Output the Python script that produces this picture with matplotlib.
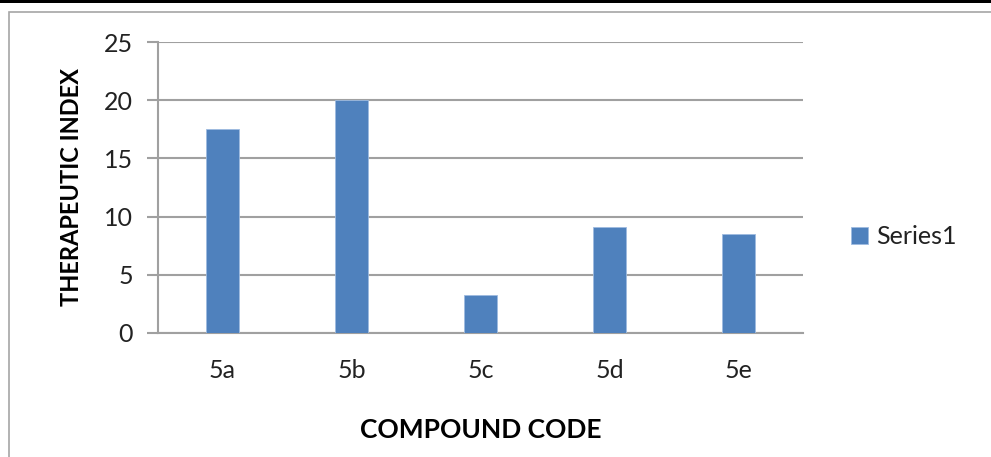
import matplotlib
matplotlib.use("Agg")
import matplotlib.pyplot as plt
from matplotlib.patches import Rectangle

# Therapeutic index of each compound
compounds = ["5a", "5b", "5c", "5d", "5e"]
therapeutic_index = [17.5, 20.0, 3.3, 9.1, 8.5]
y_ticks = [0, 5, 10, 15, 20, 25]
series_name = "Series1"

W, H = 991, 457
fig = plt.figure(figsize=(W / 100, H / 100), dpi=100)
plt.rcParams["font.family"] = ["Lato", "DejaVu Sans"]

# Frame of the chart area and the dark strip along the top edge
fig.patches.append(Rectangle((0, 1 - 3 / H), 1, 3 / H, transform=fig.transFigure,
                             facecolor="black", edgecolor="none", zorder=0))
fig.patches.append(Rectangle((9 / W, -0.1), 1.2, 1 - 12 / H + 0.1, transform=fig.transFigure,
                             facecolor="none", edgecolor="#a6a6a6", linewidth=1.2, zorder=0))

left, right, top, bottom = 158, 803, 42, 333
ax = fig.add_axes([left / W, 1 - bottom / H, (right - left) / W, (bottom - top) / H])

grid_color = "#a0a0a0"
text_color = "#222222"
x = range(len(compounds))
ax.bar(x, therapeutic_index, width=0.25, color="#4f81bd", edgecolor="#9ebbe0",
       linewidth=0.6, zorder=3, label=series_name)

ax.set_xlim(-0.5, len(compounds) - 0.5)
ax.set_ylim(0, 25)
ax.set_yticks(y_ticks)
ax.set_xticks(list(x))
ax.set_xticklabels(compounds)
ax.yaxis.grid(True, color=grid_color, linewidth=1.5, zorder=0)
ax.set_axisbelow(True)

for side in ("top", "right"):
    ax.spines[side].set_visible(False)
for side in ("left", "bottom"):
    ax.spines[side].set_color(grid_color)
    ax.spines[side].set_linewidth(1.5)

ax.tick_params(axis="y", length=8, width=1.5, color=grid_color, labelsize=18,
               labelcolor=text_color, pad=10)
ax.tick_params(axis="x", length=0, labelsize=18, labelcolor=text_color, pad=19)

ax.set_ylabel("THERAPEUTIC INDEX", fontsize=17, fontweight="bold", labelpad=15,
              color="black")
ax.set_xlabel("COMPOUND CODE", fontsize=19, fontweight="bold", labelpad=26,
              color="black")

ax.legend(loc="center left", bbox_to_anchor=(1.074, 0.33), frameon=False,
          fontsize=18, handlelength=0.7, handleheight=0.7, handletextpad=0.3,
          labelcolor=text_color, borderaxespad=0, borderpad=0)

fig.savefig("out.png", dpi=100)
